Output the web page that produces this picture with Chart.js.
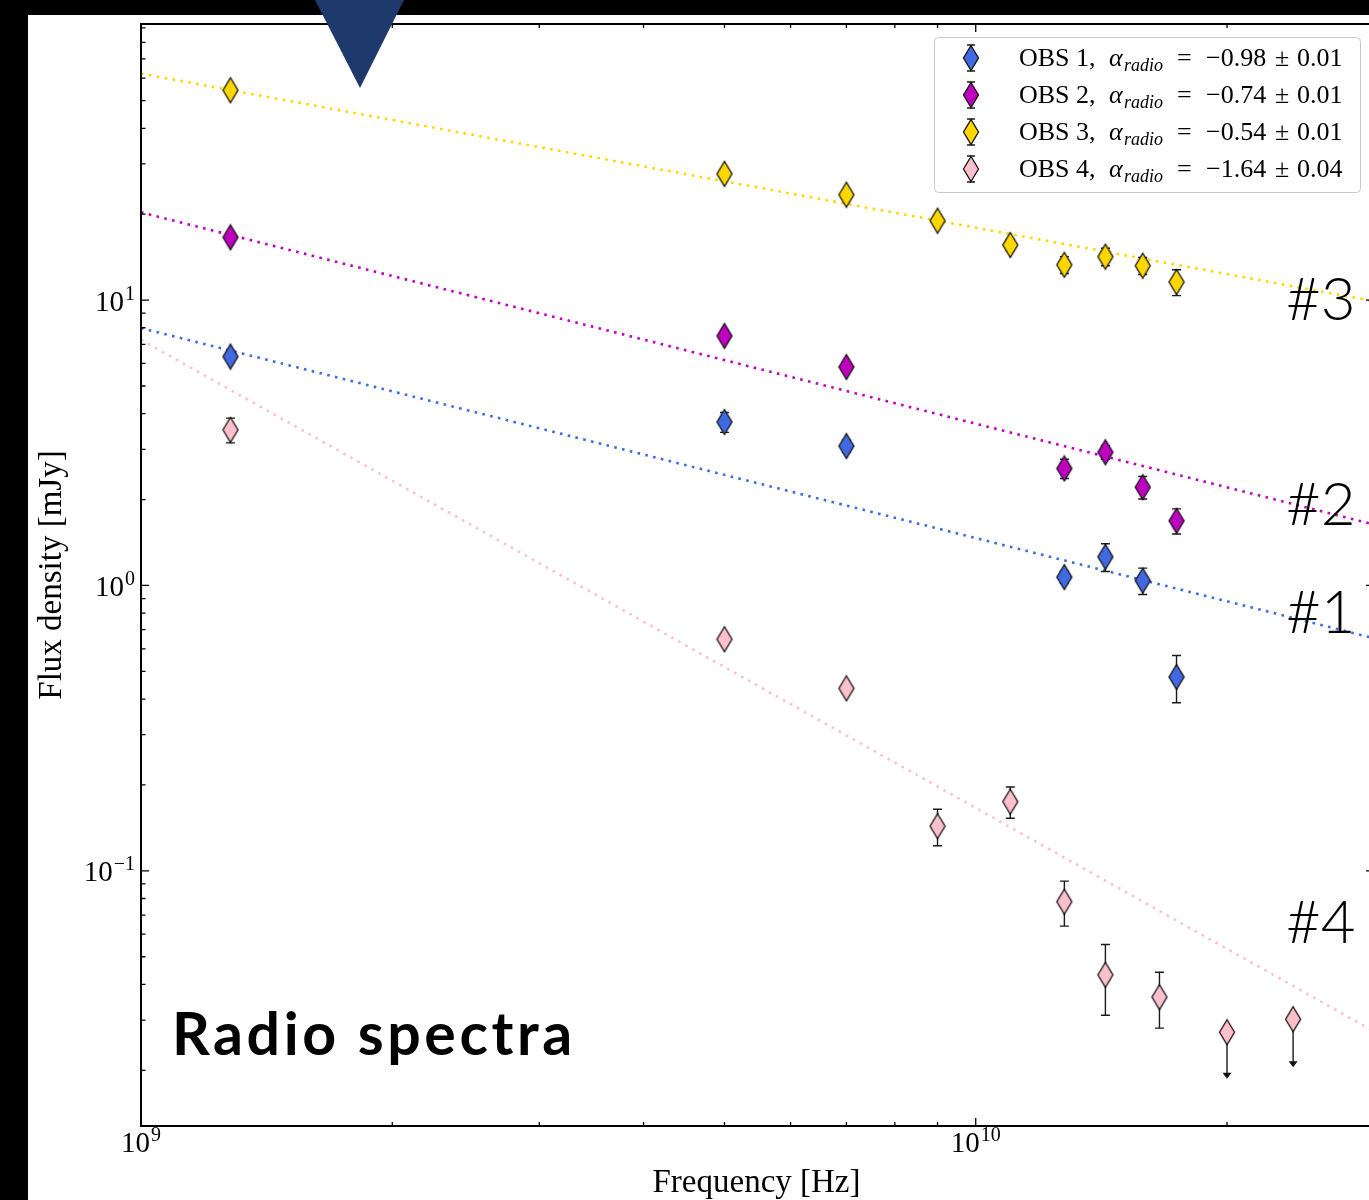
<!DOCTYPE html>
<html>
<head>
<meta charset="utf-8">
<style>
  html, body { margin: 0; padding: 0; background: #000; overflow: hidden; }
  #wrap { position: absolute; left: 0; top: 0; width: 1380px; height: 1200px; }
</style>
</head>
<body>
<div id="wrap"><canvas id="spectra" width="1380" height="1200"></canvas></div>

<script src="https://cdn.jsdelivr.net/npm/chart.js"></script>
<script>
// observing runs
const obsNames = ['OBS 1', 'OBS 2', 'OBS 3', 'OBS 4'];
const alphaValues = ['\u22120.98', '\u22120.74', '\u22120.54', '\u22121.64'];
const alphaErrors = ['0.01', '0.01', '0.01', '0.04'];
const obsColors = ['#4169e1', '#bf00bf', '#ffd700', '#ffc0cb'];

// frequencies [Hz]
const freqObs1 = [1.28e9, 5.0e9, 7.0e9, 12.77e9, 14.3e9, 15.85e9, 17.4e9];
const freqObs2 = [1.28e9, 5.0e9, 7.0e9, 12.77e9, 14.3e9, 15.85e9, 17.4e9];
const freqObs3 = [1.28e9, 5.0e9, 7.0e9, 9.0e9, 11.0e9, 12.77e9, 14.3e9, 15.85e9, 17.4e9];
const freqObs4 = [1.28e9, 5.0e9, 7.0e9, 9.0e9, 11.0e9, 12.77e9, 14.3e9, 16.6e9, 20.0e9, 24.0e9];

// flux densities [mJy] and 1-sigma errors
const fluxObs1 = [6.34, 3.74, 3.08, 1.07, 1.26, 1.04, 0.478];
const errObs1  = [0.2, 0.3, 0.15, 0.05, 0.14, 0.11, 0.09];
const fluxObs2 = [16.6, 7.49, 5.83, 2.57, 2.93, 2.21, 1.685];
const errObs2  = [0.5, 0.3, 0.2, 0.2, 0.16, 0.2, 0.17];
const fluxObs3 = [54.4, 27.7, 23.4, 18.98, 15.6, 13.3, 14.2, 13.2, 11.57];
const errObs3  = [1.0, 1.0, 0.8, 0.7, 0.7, 0.9, 1.0, 0.9, 1.2];
const fluxObs4 = [3.51, 0.648, 0.436, 0.1434, 0.1748, 0.078, 0.0432, 0.0361, 0.0272, 0.0302];
const errObs4  = [0.35, 0.016, 0.011, 0.021, 0.022, 0.014, 0.012, 0.008, null, null];
// upper limits: arrow runs down to this flux
const limObs4  = [null, null, null, null, null, null, null, null, 0.0187, 0.0205];

// power-law fit lines, flux at the ends of the frequency range
const fitFreq = [1e9, 3e10];
const fitObs1 = [7.98, 0.653];
const fitObs2 = [20.3, 1.635];
const fitObs3 = [62.2, 9.91];
const fitObs4 = [7.26, 0.0274];

const xTickExps = [9, 10];
const yTickExps = [-1, 0, 1];

const serif = '"Liberation Serif", "DejaVu Serif", serif';

// thin diamond marker, like matplotlib's 'd'
function diamondImage(fill) {
  const c = document.createElement('canvas');
  c.width = 18; c.height = 28;
  const g = c.getContext('2d');
  g.beginPath();
  g.moveTo(9, 1.5); g.lineTo(16.5, 14); g.lineTo(9, 26.5); g.lineTo(1.5, 14);
  g.closePath();
  g.fillStyle = fill;
  g.fill();
  g.lineWidth = 1.3;
  g.strokeStyle = '#111';
  g.stroke();
  return c;
}
const markers = obsColors.map(diamondImage);

function pts(freq, flux) {
  return freq.map((f, i) => ({ x: f, y: flux[i] }));
}

const series = [
  { freq: freqObs1, flux: fluxObs1, err: errObs1, lim: null, fit: fitObs1 },
  { freq: freqObs2, flux: fluxObs2, err: errObs2, lim: null, fit: fitObs2 },
  { freq: freqObs3, flux: fluxObs3, err: errObs3, lim: null, fit: fitObs3 },
  { freq: freqObs4, flux: fluxObs4, err: errObs4, lim: limObs4, fit: fitObs4 },
];

const datasets = [];
series.forEach((s, i) => {
  datasets.push({
    label: obsNames[i] + ' fit',
    data: pts(fitFreq, s.fit),
    showLine: true,
    borderColor: obsColors[i],
    borderWidth: 2.6,
    borderDash: [2.6, 5.4],
    pointRadius: 0,
    order: 2
  });
});
series.forEach((s, i) => {
  datasets.push({
    label: obsNames[i],
    data: pts(s.freq, s.flux),
    errors: s.err,
    limits: s.lim,
    pointStyle: markers[i],
    pointRadius: 12,
    showLine: false,
    order: 1
  });
});

// black slide frame behind the white figure
const backdrop = {
  id: 'backdrop',
  beforeDraw(chart) {
    const ctx = chart.ctx;
    ctx.save();
    ctx.fillStyle = '#000';
    ctx.fillRect(0, 0, chart.width, chart.height);
    ctx.fillStyle = '#fff';
    ctx.fillRect(28, 15, chart.width - 28, chart.height - 15);
    ctx.restore();
  }
};

// vertical error bars with caps, and arrows for upper limits
const errorBars = {
  id: 'errorBars',
  beforeDatasetDraw(chart, args) {
    const ds = chart.data.datasets[args.index];
    if (!ds.errors) return;
    const ys = chart.scales.y;
    const ctx = chart.ctx;
    ctx.save();
    ctx.strokeStyle = '#1a1a1a';
    ctx.fillStyle = '#111';
    ctx.lineWidth = 1.4;
    args.meta.data.forEach((el, i) => {
      const v = ds.data[i].y;
      const x = el.x;
      if (ds.limits && ds.limits[i] != null) {
        const yEnd = ys.getPixelForValue(ds.limits[i]);
        ctx.beginPath();
        ctx.moveTo(x, el.y); ctx.lineTo(x, yEnd - 5);
        ctx.stroke();
        ctx.beginPath();
        ctx.moveTo(x - 4.5, yEnd - 6); ctx.lineTo(x + 4.5, yEnd - 6); ctx.lineTo(x, yEnd);
        ctx.closePath();
        ctx.fill();
        return;
      }
      const e = ds.errors[i];
      if (e == null) return;
      const yTop = ys.getPixelForValue(v + e);
      const yBot = ys.getPixelForValue(v - e);
      ctx.beginPath();
      ctx.moveTo(x, yTop); ctx.lineTo(x, yBot);
      ctx.moveTo(x - 4.5, yTop); ctx.lineTo(x + 4.5, yTop);
      ctx.moveTo(x - 4.5, yBot); ctx.lineTo(x + 4.5, yBot);
      ctx.stroke();
    });
    ctx.restore();
  }
};

function powerLabel(ctx, exp, x, y, align) {
  const base = '10';
  const sup = exp < 0 ? '\u2212' + (-exp) : String(exp);
  ctx.font = '29px ' + serif;
  const wb = ctx.measureText(base).width;
  ctx.font = '20px ' + serif;
  const ws = ctx.measureText(sup).width;
  let left = x;
  if (align === 'right') left = x - wb - ws - 1;
  if (align === 'center') left = x - (wb + ws + 1) / 2;
  ctx.textAlign = 'left';
  ctx.textBaseline = 'alphabetic';
  ctx.font = '29px ' + serif;
  ctx.fillText(base, left, y);
  ctx.font = '20px ' + serif;
  ctx.fillText(sup, left + wb + 1, y - 11);
}

// frame, inward ticks, tick labels and axis titles
const axesFrame = {
  id: 'axesFrame',
  afterDatasetsDraw(chart) {
    const { ctx, chartArea: a } = chart;
    const xs = chart.scales.x, ys = chart.scales.y;
    ctx.save();
    ctx.strokeStyle = '#000';
    ctx.lineWidth = 1.3;
    ctx.beginPath();
    for (let e = 9; e <= 10; e++) {
      for (let k = 1; k <= 9; k++) {
        const v = k * Math.pow(10, e);
        if (v < xs.min || v > xs.max) continue;
        const px = xs.getPixelForValue(v);
        const len = k === 1 ? 8 : 4;
        ctx.moveTo(px, a.bottom); ctx.lineTo(px, a.bottom - len);
        ctx.moveTo(px, a.top); ctx.lineTo(px, a.top + len);
      }
    }
    for (let e = -2; e <= 1; e++) {
      for (let k = 1; k <= 9; k++) {
        const v = k * Math.pow(10, e);
        if (v < ys.min || v > ys.max) continue;
        const py = ys.getPixelForValue(v);
        const len = k === 1 ? 8 : 4.5;
        ctx.moveTo(a.left, py); ctx.lineTo(a.left + len, py);
        ctx.moveTo(a.right, py); ctx.lineTo(a.right - len, py);
      }
    }
    ctx.stroke();
    ctx.lineWidth = 2;
    ctx.strokeRect(a.left, a.top, a.right - a.left, a.bottom - a.top);

    ctx.fillStyle = '#000';
    xTickExps.forEach(e => powerLabel(ctx, e, xs.getPixelForValue(Math.pow(10, e)), a.bottom + 26, 'center'));
    yTickExps.forEach(e => powerLabel(ctx, e, a.left - 6, ys.getPixelForValue(Math.pow(10, e)) + 10.5, 'right'));

    ctx.font = '33px ' + serif;
    ctx.textAlign = 'center';
    ctx.fillText('Frequency [Hz]', (a.left + a.right) / 2 - 1, 1192);
    ctx.translate(61, (a.top + a.bottom) / 2);
    ctx.rotate(-Math.PI / 2);
    ctx.fillText('Flux density [mJy]', 0, 0);
    ctx.restore();
  }
};

// legend box, panel titles and the pointer triangle
const overlay = {
  id: 'overlay',
  afterDraw(chart) {
    const ctx = chart.ctx;
    ctx.save();
    // legend
    ctx.beginPath();
    ctx.roundRect(934.5, 37.5, 426, 155, 4);
    ctx.fillStyle = '#fff';
    ctx.fill();
    ctx.strokeStyle = '#c8c8c8';
    ctx.lineWidth = 1;
    ctx.stroke();
    const rows = [58, 95, 132, 169];
    rows.forEach((ry, i) => {
      ctx.strokeStyle = '#1a1a1a';
      ctx.lineWidth = 1.4;
      ctx.beginPath();
      ctx.moveTo(971, ry - 13); ctx.lineTo(971, ry + 13);
      ctx.moveTo(967, ry - 13); ctx.lineTo(975, ry - 13);
      ctx.moveTo(967, ry + 13); ctx.lineTo(975, ry + 13);
      ctx.stroke();
      ctx.drawImage(markers[i], 971 - 9, ry - 14);
      const base = ry + 8;
      ctx.fillStyle = '#000';
      ctx.textAlign = 'left';
      ctx.font = '26px ' + serif;
      ctx.fillText(obsNames[i] + ',', 1019, base);
      ctx.font = 'italic 26px ' + serif;
      ctx.fillText('\u03b1', 1109, base);
      ctx.font = 'italic 18px ' + serif;
      ctx.fillText('radio', 1124, base + 5);
      ctx.font = '26px ' + serif;
      ctx.fillText('=', 1177, base);
      ctx.fillText(alphaValues[i], 1206, base);
      ctx.fillText('\u00b1', 1275, base);
      ctx.fillText(alphaErrors[i], 1297, base);
    });

    // panel title and run labels
    ctx.fillStyle = '#000';
    ctx.font = '700 59px Lato, "Noto Sans", sans-serif';
    ctx.letterSpacing = '3.6px';
    ctx.fillText('Radio spectra', 172, 1055);
    ctx.letterSpacing = '0px';
    ctx.font = '300 60px Lato, "Noto Sans", sans-serif';
    ctx.fillText('#3', 1286, 320);
    ctx.fillText('#2', 1286, 525);
    ctx.fillText('#1', 1286, 633);
    ctx.fillText('#4', 1286, 943);

    // pointer triangle from the slide header
    ctx.fillStyle = '#1e3a6c';
    ctx.beginPath();
    ctx.moveTo(315, 0); ctx.lineTo(404, 0); ctx.lineTo(360, 88);
    ctx.closePath();
    ctx.fill();
    ctx.restore();
  }
};

new Chart(document.getElementById('spectra').getContext('2d'), {
  type: 'scatter',
  data: { datasets: datasets },
  options: {
    responsive: false,
    animation: false,
    devicePixelRatio: 1,
    layout: { autoPadding: false, padding: { left: 141, top: 24, right: 6, bottom: 74 } },
    plugins: { legend: { display: false }, tooltip: { enabled: false } },
    scales: {
      x: { type: 'logarithmic', min: 1e9, max: 3e10, display: false },
      y: { type: 'logarithmic', min: 0.01276, max: 92.8, display: false }
    }
  },
  plugins: [backdrop, errorBars, axesFrame, overlay]
});
</script>
</body>
</html>
